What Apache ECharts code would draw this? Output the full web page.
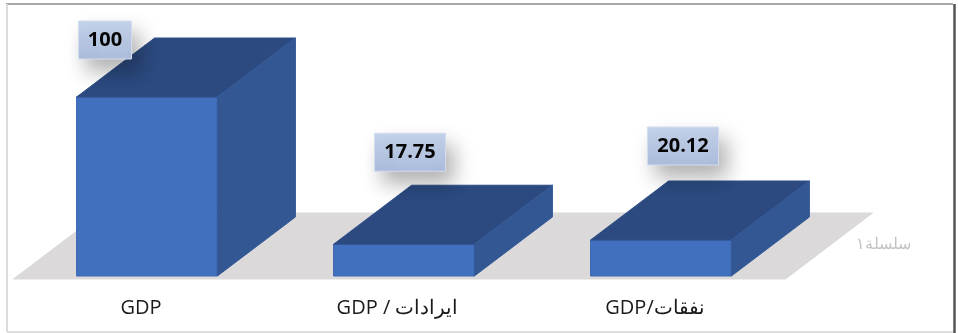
<!DOCTYPE html>
<html>
<head>
<meta charset="utf-8">
<style>
  html, body { margin: 0; padding: 0; background: #fff; }
  #chart { width: 958px; height: 333px; }
</style>
<script src="https://cdn.jsdelivr.net/npm/echarts@6/dist/echarts.min.js"></script>
</head>
<body>
<div id="chart"></div>
<script>
const categories = ['GDP', 'GDP / ایرادات', 'GDP/نفقات'];
const values = [100, 17.75, 20.12];
const seriesName = 'سلسلة١';

// Horizontal shift of each category caption, and where each value tag sits
// relative to the top centre of its column.
const captionShift = [12, 13, 12];
const tagOffsetX = [-42, 6, 22];
const tagOffsetY = [-57, -92, -94];

// Oblique projection of the third dimension, in pixels.
const DEPTH_X = 78;
const DEPTH_Y = -59;

const poly = (points, fill, stroke) => ({
  type: 'polygon',
  shape: { points },
  style: { fill, stroke: stroke || fill, lineWidth: 1, lineJoin: 'round' },
  silent: true
});

function renderColumn(params, api) {
  const i = api.value(0);
  const base = api.coord([i, 0]);
  const top = api.coord([i, api.value(1)]);
  const half = api.size([1, 0])[0] * 0.274;
  const l = base[0] - half;
  const r = base[0] + half;
  const t = top[1];
  const b = base[1];
  const children = [];

  // Shared floor of the 3D plot, laid down before the first column.
  if (params.dataIndex === 0) {
    const c = params.coordSys;
    const fl = c.x - 5;
    const fr = c.x + c.width - 4;
    const fb = b + 3;
    children.push(poly([[fl, fb], [fr, fb], [fr + 87, fb - 66], [fl + 87, fb - 66]], '#dbd9da'));
  }

  children.push(
    poly([[l, b], [r, b], [r, t], [l, t]], '#4170bf', '#3a66b0'),
    poly([[l, t], [r, t], [r + DEPTH_X, t + DEPTH_Y], [l + DEPTH_X, t + DEPTH_Y]], '#2c4a80', '#2f5089'),
    poly([[r, b], [r + DEPTH_X, b + DEPTH_Y], [r + DEPTH_X, t + DEPTH_Y], [r, t]], '#335793', '#345a98')
  );

  // Value tag with a soft drop shadow.
  const text = String(api.value(1));
  const w = 26 + 9 * text.length;
  const h = 38;
  const cx = base[0] + tagOffsetX[i];
  const cy = t + tagOffsetY[i];
  children.push({
    type: 'rect',
    shape: { x: cx - w / 2, y: cy - h / 2, width: w, height: h },
    style: {
      fill: {
        type: 'linear', x: 0, y: 0, x2: 0, y2: 1,
        colorStops: [{ offset: 0, color: '#c6d3eb' }, { offset: 1, color: '#acbedd' }]
      },
      stroke: '#d3ddef',
      lineWidth: 1,
      shadowBlur: 20,
      shadowColor: 'rgba(0,0,0,0.30)',
      shadowOffsetX: 8,
      shadowOffsetY: 12
    },
    silent: true
  }, {
    type: 'text',
    x: cx,
    y: cy,
    style: {
      text,
      fill: '#050505',
      font: 'bold 20px "Open Sans", "Noto Sans", sans-serif',
      align: 'center',
      verticalAlign: 'middle'
    },
    silent: true
  });

  return { type: 'group', children };
}

const chart = echarts.init(document.getElementById('chart'), null, { renderer: 'canvas' });
chart.setOption({
  animation: false,
  backgroundColor: '#fff',
  grid: { left: 18.5, right: 168.5, top: 97, bottom: 57 },
  xAxis: {
    type: 'category',
    data: categories.map((value, i) => ({
      value,
      textStyle: { padding: [0, captionShift[i], 0, 0] }
    })),
    axisLine: { show: false },
    axisTick: { show: false },
    axisLabel: {
      margin: 22,
      interval: 0,
      color: '#1a1a1a',
      fontSize: 20,
      fontFamily: '"Open Sans", "Noto Sans", sans-serif'
    }
  },
  yAxis: { type: 'value', min: 0, max: 100, show: false },
  series: [{
    type: 'custom',
    name: seriesName,
    clip: false,
    silent: true,
    renderItem: renderColumn,
    encode: { x: 0, y: 1 },
    data: values.map((v, i) => [i, v])
  }],
  graphic: [
    {
      type: 'text', x: 911, y: 245, silent: true,
      style: {
        text: seriesName,
        fill: '#c4c4c4',
        font: '16px "DejaVu Serif", serif',
        align: 'right',
        verticalAlign: 'middle'
      }
    },
    { type: 'line', silent: true, shape: { x1: 6, y1: 4, x2: 953, y2: 4 }, style: { stroke: '#a8a8a8', lineWidth: 2 } },
    { type: 'line', silent: true, shape: { x1: 7, y1: 4, x2: 7, y2: 332 }, style: { stroke: '#dcdcdc', lineWidth: 2 } },
    { type: 'line', silent: true, shape: { x1: 7, y1: 332, x2: 953, y2: 332 }, style: { stroke: '#d4d4d4', lineWidth: 1.5 } },
    { type: 'line', silent: true, shape: { x1: 954.5, y1: 4, x2: 954.5, y2: 333 }, style: { stroke: '#555555', lineWidth: 2.5 } }
  ]
});
</script>
</body>
</html>
